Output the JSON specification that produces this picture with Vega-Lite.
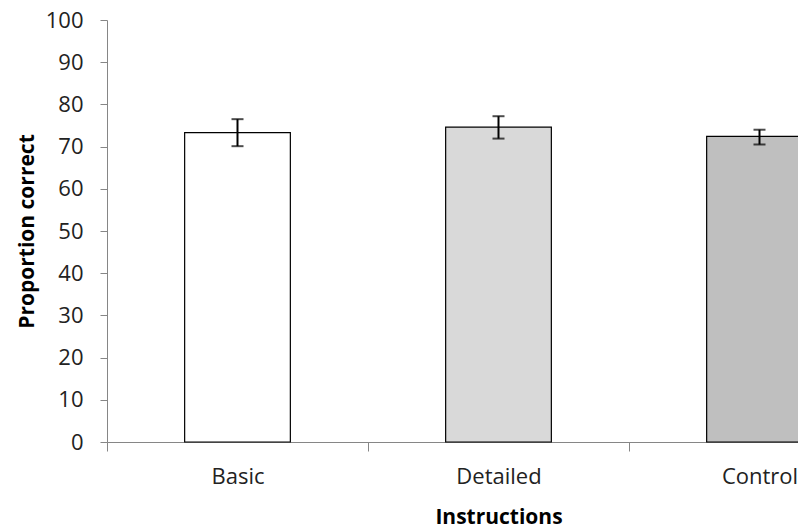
{
  "$schema": "https://vega.github.io/schema/vega-lite/v6.json",
  "autosize": {"type": "none"},
  "padding": {"left": 107, "top": 20, "right": 0, "bottom": 89},
  "width": 691,
  "height": 422,
  "background": "white",
  "config": {
    "view": {"stroke": null},
    "font": "Open Sans",
    "axis": {"grid": false, "labelFont": "Open Sans", "titleFont": "Open Sans", "labelColor": "#222", "titleColor": "#000", "domainColor": "#868686", "tickColor": "#868686", "domainWidth": 1, "tickWidth": 1}
  },
  "data": {
    "values": [
      {"cond": "Basic", "mean": 73.3, "lo": 70.1, "hi": 76.5},
      {"cond": "Detailed", "mean": 74.6, "lo": 71.9, "hi": 77.2},
      {"cond": "Control", "mean": 72.4, "lo": 70.5, "hi": 74.0}
    ]
  },
  "encoding": {
    "x": {
      "field": "cond", "type": "nominal", "sort": null,
      "scale": {"range": [0, 783], "paddingInner": 0, "paddingOuter": 0},
      "axis": {"title": "Instructions", "labelAngle": 0, "labelFontSize": 22, "titleFontSize": 21, "titleFontWeight": "bold", "tickBand": "extent", "tickSize": 9, "labelPadding": 15, "titlePadding": 19}
    }
  },
  "layer": [
    {
      "mark": {"type": "bar", "width": {"band": 0.405}, "stroke": "black", "strokeWidth": 1.2},
      "encoding": {
        "y": {
          "field": "mean", "type": "quantitative",
          "scale": {"domain": [0, 100], "nice": false},
          "axis": {"title": "Proportion correct", "values": [0,10,20,30,40,50,60,70,80,90,100], "labelFontSize": 22, "titleFontSize": 21, "titleFontWeight": "bold", "tickSize": 7, "labelPadding": 17, "titlePadding": 8}
        },
        "fill": {"field": "cond", "type": "nominal", "scale": {"domain": ["Basic", "Detailed", "Control"], "range": ["#ffffff", "#d9d9d9", "#bfbfbf"]}, "legend": null}
      }
    },
    {
      "mark": {"type": "rule", "color": "black", "strokeWidth": 2},
      "encoding": {"y": {"field": "lo", "type": "quantitative"}, "y2": {"field": "hi"}}
    },
    {
      "mark": {"type": "tick", "color": "black", "thickness": 2, "size": 12},
      "encoding": {"y": {"field": "lo", "type": "quantitative"}}
    },
    {
      "mark": {"type": "tick", "color": "black", "thickness": 2, "size": 12},
      "encoding": {"y": {"field": "hi", "type": "quantitative"}}
    }
  ]
}
